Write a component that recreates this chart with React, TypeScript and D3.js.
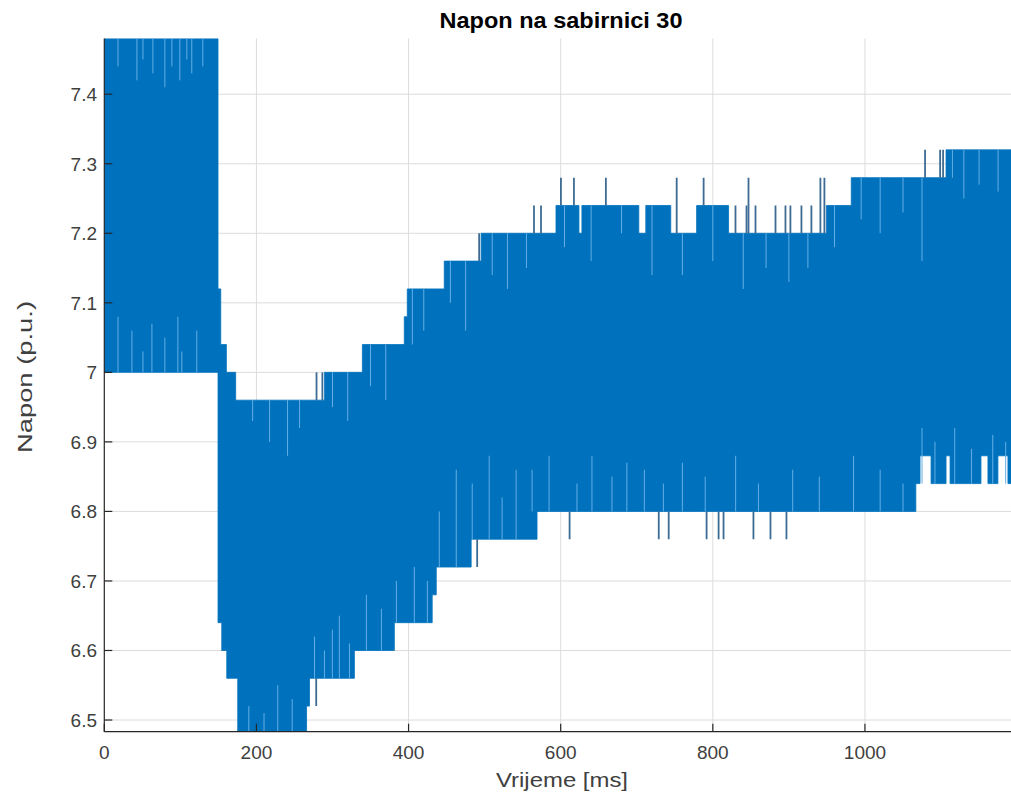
import React from "react";
import * as d3 from "d3";

const W = 1011;
const H = 796;

const xTicks = [0, 200, 400, 600, 800, 1000];
const xTickLabels = ["0", "200", "400", "600", "800", "1000"];
const yTicks = [6.5, 6.6, 6.7, 6.8, 6.9, 7.0, 7.1, 7.2, 7.3, 7.4];
const yTickLabels = ["6.5", "6.6", "6.7", "6.8", "6.9", "7", "7.1", "7.2", "7.3", "7.4"];

// upper envelope of the oscillating voltage (step values)
const upperT = [0, 149.5, 153.1, 160.5, 172.7, 289.6, 339.3, 394.4, 398.3, 446.9, 495.4, 593.8, 624.0, 627.9, 702.7, 711.9, 744.7, 778.7, 820.7, 949.3, 982.0, 1106.6, 1192];
const upperV = [7.48, 7.12, 7.04, 7.0, 6.96, 7.0, 7.04, 7.08, 7.12, 7.16, 7.2, 7.24, 7.2, 7.24, 7.2, 7.24, 7.2, 7.24, 7.2, 7.24, 7.28, 7.32, 7.32];

// lower envelope
const lowerT = [0, 149.5, 154.4, 161.0, 175.4, 265.9, 269.8, 328.8, 381.3, 431.1, 436.4, 482.3, 568.9, 1066.9, 1072.4, 1086.9, 1106.6, 1111.9, 1152.5, 1161.7, 1174.8, 1188, 1192];
const lowerV = [7.0, 6.64, 6.6, 6.56, 6.4, 6.52, 6.56, 6.6, 6.64, 6.68, 6.72, 6.76, 6.8, 6.84, 6.88, 6.84, 6.88, 6.84, 6.88, 6.84, 6.88, 6.84, 6.84];

// isolated excursions outside the band
const spikeT = [279.0, 286.7, 492.8, 564.9, 574.1, 600.3, 617.4, 659.4, 752.5, 787.9, 846.9, 829.8, 844.3, 856.1, 882.4, 895.5, 902.0, 916.5, 929.6, 941.4, 946.7, 1079.0, 1098.8, 1102.7,
  278.6, 490.2, 611.7, 728.9, 742.0, 791.8, 807.6, 814.1, 853.4, 875.8, 896.8];
const spikeFrom = [6.96, 6.96, 7.16, 7.2, 7.2, 7.24, 7.24, 7.24, 7.2, 7.24, 7.2, 7.2, 7.2, 7.2, 7.2, 7.2, 7.2, 7.2, 7.2, 7.2, 7.2, 7.28, 7.28, 7.28,
  6.56, 6.76, 6.8, 6.8, 6.8, 6.8, 6.8, 6.8, 6.8, 6.8, 6.8];
const spikeTo = [7.0, 7.0, 7.2, 7.24, 7.24, 7.28, 7.28, 7.28, 7.28, 7.28, 7.28, 7.24, 7.24, 7.24, 7.24, 7.24, 7.24, 7.24, 7.24, 7.28, 7.28, 7.32, 7.32, 7.32,
  6.52, 6.72, 6.76, 6.76, 6.76, 6.76, 6.76, 6.76, 6.76, 6.76, 6.76];

// light gaps inside the band
const streakT = [18.0, 42.9, 50.8, 63.9, 79.6, 88.8, 99.3, 108.5, 115.0, 129.5,
  18.0, 36.3, 50.8, 62.6, 79.6, 96.7, 101.9, 121.6,
  195.0, 217.3, 240.9, 256.7,
  190, 210, 228, 247,
  276.3, 289.4, 299.8, 309.0, 322.3, 344.6, 364.3, 384.0, 407.6, 424.7, 440.4, 462.7, 483.7, 506.0, 523.0, 541.4, 562.4, 584.7, 621.4, 641.1, 667.4, 687.0,
  710, 735, 760, 790, 830, 860, 905, 940, 985, 1020, 1050,
  1075, 1092, 1118, 1140, 1168, 1185,
  300, 320, 350, 370, 405, 420, 455, 475,
  510, 530, 555, 605, 640, 680, 720, 760, 800, 840, 870, 900, 925, 960, 995, 1020, 1050, 1075,
  1115, 1130, 1150, 1175];
const streakFrom = [7.48, 7.48, 7.48, 7.48, 7.48, 7.48, 7.48, 7.48, 7.48, 7.48,
  7.0, 7.0, 7.0, 7.0, 7.0, 7.0, 7.0, 7.0,
  6.96, 6.96, 6.96, 6.96,
  6.48, 6.48, 6.48, 6.48,
  6.56, 6.56, 6.56, 6.56, 6.56, 6.6, 6.6, 6.64, 6.64, 6.64, 6.72, 6.72, 6.76, 6.76, 6.76, 6.76, 6.8, 6.8, 6.8, 6.8, 6.8, 6.8,
  6.8, 6.8, 6.8, 6.8, 6.8, 6.8, 6.8, 6.8, 6.8, 6.8, 6.8,
  6.84, 6.84, 6.84, 6.84, 6.84, 6.84,
  7.0, 7.0, 7.04, 7.04, 7.12, 7.12, 7.16, 7.16,
  7.2, 7.2, 7.2, 7.24, 7.24, 7.24, 7.24, 7.2, 7.24, 7.2, 7.2, 7.2, 7.2, 7.24, 7.28, 7.28, 7.28, 7.28,
  7.32, 7.32, 7.32, 7.32];
const streakTo = [7.44, 7.42, 7.45, 7.43, 7.41, 7.44, 7.42, 7.45, 7.43, 7.44,
  7.08, 7.06, 7.03, 7.07, 7.05, 7.08, 7.03, 7.06,
  6.93, 6.9, 6.88, 6.92,
  6.52, 6.51, 6.55, 6.53,
  6.62, 6.6, 6.63, 6.65, 6.61, 6.68, 6.66, 6.7, 6.72, 6.7, 6.8, 6.86, 6.84, 6.88, 6.82, 6.86, 6.86, 6.88, 6.84, 6.88, 6.85, 6.87,
  6.86, 6.84, 6.87, 6.85, 6.88, 6.84, 6.86, 6.85, 6.88, 6.86, 6.84,
  6.92, 6.9, 6.92, 6.89, 6.91, 6.9,
  6.95, 6.93, 6.98, 6.96, 7.04, 7.06, 7.1, 7.06,
  7.14, 7.12, 7.15, 7.18, 7.16, 7.2, 7.14, 7.14, 7.16, 7.12, 7.15, 7.13, 7.15, 7.18, 7.22, 7.2, 7.23, 7.16,
  7.28, 7.25, 7.27, 7.26];

const FONT = "'Liberation Sans', Arial, Helvetica, sans-serif";
const TEXT = "#404040";
const BLUE = "#0072BD";

export default function App() {
  const left = 104.3, right = 1011, top = 38.6, bottom = 731.7;
  const x = d3.scaleLinear().domain([0, 1192]).range([left, right]);
  const y = d3.scaleLinear().domain([6.4832, 7.48]).range([bottom, top]);

  const stepVal = (T: number[], V: number[], t: number) => {
    const i = Math.max(0, d3.bisectRight(T, t) - 1);
    return V[i];
  };
  const allT = Array.from(new Set([...upperT, ...lowerT])).sort((a, b) => a - b);
  const band = allT.map((t) => ({ t, hi: stepVal(upperT, upperV, t), lo: stepVal(lowerT, lowerV, t) }));
  const area = d3
    .area<{ t: number; hi: number; lo: number }>()
    .x((d) => x(d.t))
    .y0((d) => y(d.lo))
    .y1((d) => y(d.hi))
    .curve(d3.curveStepAfter);

  const tickLen = 8;

  return (
    <svg width={W} height={H} style={{ display: "block", position: "absolute", left: 0, top: 0 }} fontFamily={FONT}>
      <rect x={0} y={0} width={W} height={H} fill="#fff" />
      <defs>
        <clipPath id="plotclip">
          <rect x={left} y={top} width={right - left} height={bottom - top} />
        </clipPath>
      </defs>
      {/* grid */}
      <g stroke="#dcdcdc" strokeWidth={1}>
        {xTicks.slice(1).map((t) => (
          <line key={"gx" + t} x1={x(t)} x2={x(t)} y1={top} y2={bottom} />
        ))}
        {yTicks.map((v) => (
          <line key={"gy" + v} x1={left} x2={right} y1={y(v)} y2={y(v)} />
        ))}
      </g>
      <g clipPath="url(#plotclip)">
        <path d={area(band) || ""} fill={BLUE} stroke={BLUE} strokeWidth={0.8} />
        {streakT.map((t, i) => (
          <line key={"s" + i} x1={x(t)} x2={x(t)} y1={y(streakFrom[i])} y2={y(streakTo[i])} stroke="#63aee6" strokeWidth={1} />
        ))}
        {spikeT.map((t, i) => (
          <line key={"p" + i} x1={x(t)} x2={x(t)} y1={y(spikeFrom[i])} y2={y(spikeTo[i])} stroke="#3d6b93" strokeWidth={1.8} />
        ))}
      </g>
      {/* axes */}
      <g stroke="#262626" strokeWidth={1.2} fill="none">
        <line x1={left} x2={left} y1={top} y2={bottom} />
        <line x1={left} x2={right} y1={bottom} y2={bottom} />
        {xTicks.map((t) => (
          <line key={"tx" + t} x1={x(t)} x2={x(t)} y1={bottom} y2={bottom - tickLen} />
        ))}
        {yTicks.map((v) => (
          <line key={"ty" + v} x1={left} x2={left + tickLen} y1={y(v)} y2={y(v)} />
        ))}
      </g>
      <g fill={TEXT} fontSize={19}>
        {xTicks.map((t, i) => (
          <text key={"lx" + t} x={x(t)} y={759} textAnchor="middle">
            {xTickLabels[i]}
          </text>
        ))}
        {yTicks.map((v, i) => (
          <text key={"ly" + v} x={97} y={y(v) + 6.8} textAnchor="end">
            {yTickLabels[i]}
          </text>
        ))}
      </g>
      <text x={562} y={787} textAnchor="middle" fontSize={20} fill={TEXT} textLength={132} lengthAdjust="spacingAndGlyphs">
        Vrijeme [ms]
      </text>
      <text transform={`translate(32,377) rotate(-90)`} textAnchor="middle" fontSize={21} fill={TEXT} textLength={152} lengthAdjust="spacingAndGlyphs">
        Napon (p.u.)
      </text>
      <text x={561} y={28} textAnchor="middle" fontSize={22} fontWeight="bold" fill="#000" textLength={243} lengthAdjust="spacingAndGlyphs">
        Napon na sabirnici 30
      </text>
    </svg>
  );
}
